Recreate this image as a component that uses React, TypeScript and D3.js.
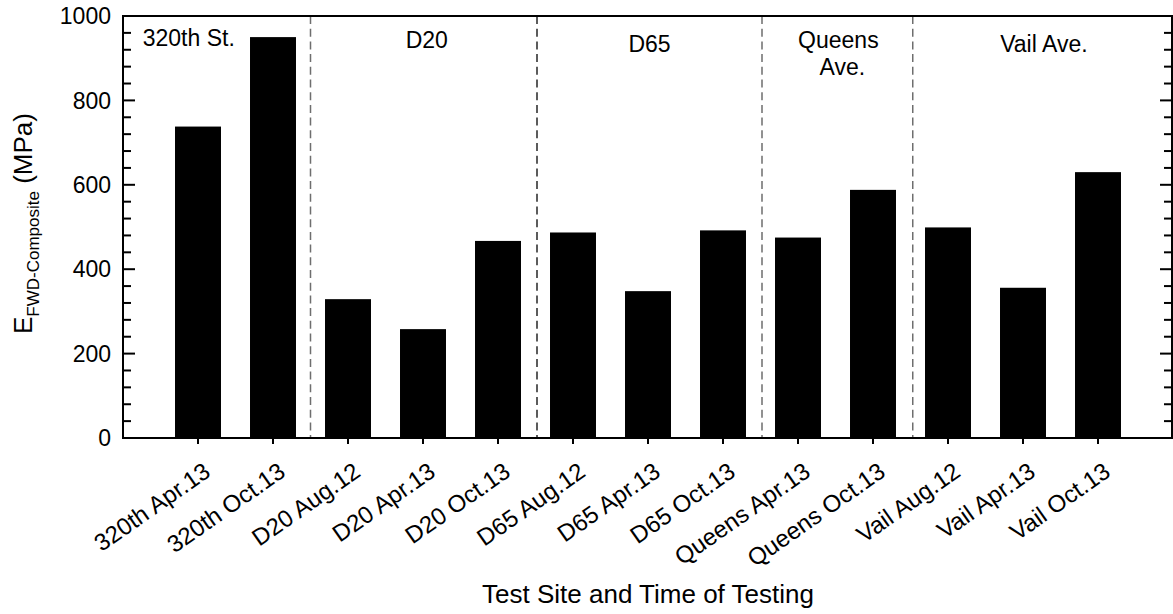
import React from 'react';
import * as d3 from 'd3';

const categories = [
  '320th Apr.13', '320th Oct.13',
  'D20 Aug.12', 'D20 Apr.13', 'D20 Oct.13',
  'D65 Aug.12', 'D65 Apr.13', 'D65 Oct.13',
  'Queens Apr.13', 'Queens Oct.13',
  'Vail Aug.12', 'Vail Apr.13', 'Vail Oct.13',
];
const values = [738, 950, 329, 258, 467, 487, 348, 492, 475, 588, 499, 356, 630];
const yTicks = [0, 200, 400, 600, 800, 1000];
const sectionLabels = [['320th St.'], ['D20'], ['D65'], ['Queens', 'Ave.'], ['Vail Ave.']];
const sectionBounds = [0, 2.5, 5.52, 8.52, 10.53, 14];

const FONT = '"Liberation Sans", Arial, Helvetica, sans-serif';

export default function App() {
  const W = 1173;
  const H = 614;
  const x = d3.scaleLinear().domain([0, 14]).range([123, 1173]);
  const y = d3.scaleLinear().domain([0, 1000]).range([438, 16]);
  const minorTicks = d3.range(0, 1001, 40).filter((v) => v % 200 !== 0);
  const unit = x(1) - x(0);
  const bw = unit * 0.613;
  const sepColors = ['#6e6e6e', '#262626', '#6e6e6e', '#6e6e6e'];
  const labelDx = [-28, 3, 0, 1, 1];
  const labelBase = [46, 48, 52, 48, 52];

  return (
    <svg
      width={W}
      height={H}
      style={{ position: 'absolute', left: 0, top: 0, background: '#fff' }}
      fontFamily={FONT}
    >
      {/* separators */}
      {sectionBounds.slice(1, -1).map((b, i) => (
        <line
          key={'s' + i}
          x1={x(b)}
          x2={x(b)}
          y1={y(1000)}
          y2={y(0)}
          stroke={sepColors[i]}
          strokeWidth={1.5}
          strokeDasharray="8,4.7"
        />
      ))}
      {/* bars */}
      {values.map((v, i) => (
        <rect
          key={'b' + i}
          x={x(i + 1) - bw / 2}
          y={y(v)}
          width={bw}
          height={y(0) - y(v)}
          fill="#000"
        />
      ))}
      {/* frame */}
      <line x1={123} x2={1173} y1={y(1000)} y2={y(1000)} stroke="#000" strokeWidth={2} />
      <line x1={123} x2={1173} y1={y(0)} y2={y(0)} stroke="#000" strokeWidth={2} />
      <line x1={123} x2={123} y1={y(1000) - 1} y2={y(0) + 1} stroke="#000" strokeWidth={2} />
      <line x1={1172} x2={1172} y1={y(1000) - 1} y2={y(0) + 1} stroke="#000" strokeWidth={2} />
      {/* y ticks */}
      {yTicks.map((t) => (
        <g key={'yt' + t}>
          <line x1={123} x2={135} y1={y(t)} y2={y(t)} stroke="#000" strokeWidth={2} />
          <line x1={1160} x2={1172} y1={y(t)} y2={y(t)} stroke="#000" strokeWidth={2} />
          <text x={111} y={y(t)} dy="0.36em" textAnchor="end" fontSize={23} fill="#000">
            {t}
          </text>
        </g>
      ))}
      {minorTicks.map((t) => (
        <g key={'ym' + t}>
          <line x1={123} x2={131} y1={y(t)} y2={y(t)} stroke="#000" strokeWidth={2} />
          <line x1={1164} x2={1172} y1={y(t)} y2={y(t)} stroke="#000" strokeWidth={2} />
        </g>
      ))}
      {/* x ticks and labels */}
      {categories.map((c, i) => (
        <g key={'xt' + i}>
          <line x1={x(i + 1)} x2={x(i + 1)} y1={y(0)} y2={y(0) + 6} stroke="#000" strokeWidth={2} />
          <text
            transform={`translate(${x(i + 1) + 14},${y(0) + 37}) rotate(-35)`}
            textAnchor="end"
            fontSize={24}
            fill="#000"
          >
            {c}
          </text>
        </g>
      ))}
      {/* section labels */}
      {sectionLabels.map((lines, i) => {
        const cx = (x(sectionBounds[i]) + x(sectionBounds[i + 1])) / 2 + labelDx[i];
        return (
          <text key={'sl' + i} textAnchor="middle" fontSize={23} fill="#000">
            {lines.map((l, j) => (
              <tspan key={j} x={cx + (j > 0 ? 4 : 0)} y={labelBase[i] + j * 27}>
                {l}
              </tspan>
            ))}
          </text>
        );
      })}
      {/* axis titles */}
      <text x={648} y={603} textAnchor="middle" fontSize={26} fill="#000">
        Test Site and Time of Testing
      </text>
      <text transform="translate(31.5,223.5) rotate(-90)" textAnchor="middle" fontSize={26} fill="#000">
        E
        <tspan fontSize={17} dy={7}>FWD-Composite</tspan>
        <tspan dy={-7}> (MPa)</tspan>
      </text>
    </svg>
  );
}
